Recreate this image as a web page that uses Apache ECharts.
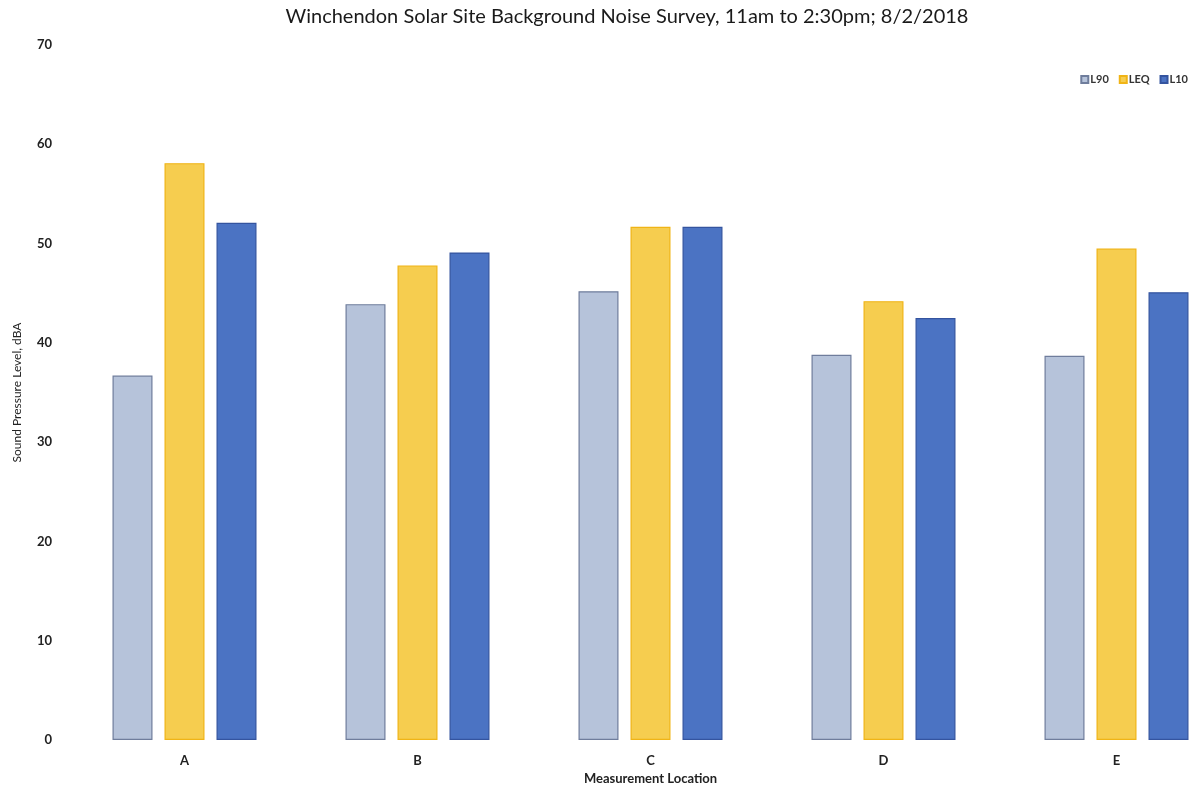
<!DOCTYPE html>
<html>
<head>
<meta charset="utf-8">
<script src="https://cdn.jsdelivr.net/npm/echarts@6/dist/echarts.min.js"></script>
<style>
  html, body { margin: 0; padding: 0; background: #ffffff; overflow: hidden; }
  /* the plot area runs a little past the right edge of the page */
  #chart { width: 1233px; height: 791px; }
</style>
</head>
<body>
<div id="chart"></div>
<script>
// Measurement locations and sound levels (dBA)
const locations = ['A', 'B', 'C', 'D', 'E'];
const l90 = [36.7, 43.9, 45.2, 38.8, 38.7];
const leq = [58.1, 47.8, 51.7, 44.2, 49.5];
const l10 = [52.1, 49.1, 51.7, 42.5, 45.1];
const yTicks = [0, 10, 20, 30, 40, 50, 60, 70];

const fontFam = 'Lato, "Open Sans", sans-serif';
const chart = echarts.init(document.getElementById('chart'));

function barSeries(name, data, fill, edge) {
  return {
    name: name,
    type: 'bar',
    data: data,
    barWidth: 40,
    barGap: '30%',
    itemStyle: { color: fill, borderColor: edge, borderWidth: 1.2 },
    emphasis: { disabled: true }
  };
}

chart.setOption({
  animation: false,
  backgroundColor: '#ffffff',
  title: {
    text: 'Winchendon Solar Site Background Noise Survey, 11am to 2:30pm; 8/2/2018',
    left: 622,
    textAlign: 'center',
    top: 2,
    textStyle: { fontFamily: fontFam, fontSize: 20, fontWeight: 'normal', color: '#1a1a1a' }
  },
  legend: {
    right: 40,
    top: 69,
    itemWidth: 7,
    itemHeight: 7,
    itemGap: 10,
    icon: 'rect',
    textStyle: { fontFamily: fontFam, fontSize: 11, fontWeight: 'bold', color: '#333', padding: [0, 0, 0, -3] },
    data: ['L90', 'LEQ', 'L10']
  },
  grid: { left: 68, right: 0, top: 45, bottom: 51, containLabel: false },
  xAxis: {
    type: 'category',
    data: locations,
    name: 'Measurement Location',
    nameLocation: 'middle',
    nameGap: 31,
    nameTextStyle: { fontFamily: fontFam, fontSize: 13, fontWeight: 'bold', color: '#222' },
    axisLine: { show: false },
    axisTick: { show: false },
    axisLabel: { margin: 14, fontFamily: fontFam, fontSize: 13, fontWeight: 'bold', color: '#222' }
  },
  yAxis: {
    type: 'value',
    min: yTicks[0],
    max: yTicks[yTicks.length - 1],
    interval: 10,
    name: 'Sound Pressure Level, dBA',
    nameLocation: 'middle',
    nameGap: 45,
    nameTextStyle: { fontFamily: fontFam, fontSize: 12, color: '#222' },
    splitLine: { show: false },
    axisLine: { show: false },
    axisTick: { show: false },
    axisLabel: { margin: 16, fontFamily: fontFam, fontSize: 13, fontWeight: 'bold', color: '#222' }
  },
  series: [
    barSeries('L90', l90, '#b6c3da', '#6f7d9c'),
    barSeries('LEQ', leq, '#f6cd4f', '#f0b416'),
    barSeries('L10', l10, '#4b73c3', '#34549f')
  ]
});
</script>
</body>
</html>
